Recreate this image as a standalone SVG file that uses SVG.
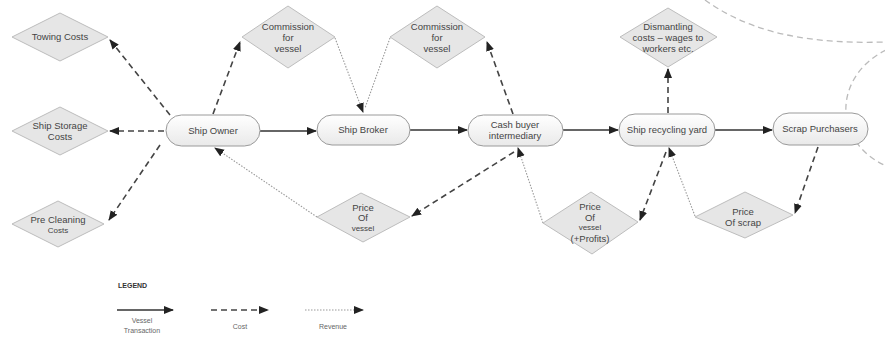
<svg xmlns="http://www.w3.org/2000/svg" width="885" height="339" viewBox="0 0 885 339">
<defs>
<linearGradient id="pill" x1="0" y1="0" x2="0" y2="1">
<stop offset="0" stop-color="#ffffff"/><stop offset="1" stop-color="#e9e9e9"/>
</linearGradient>
<marker id="ah" markerUnits="userSpaceOnUse" markerWidth="10" markerHeight="10" viewBox="0 0 10 10" refX="9" refY="5" orient="auto">
<path d="M0,1 L10,5 L0,9 Z" fill="#222"/>
</marker>
</defs>
<style>
text{font-family:"Liberation Sans",Arial,sans-serif;font-size:9.5px;fill:#444;text-anchor:middle;dominant-baseline:middle}
.node rect{fill:url(#pill);stroke:#9a9a9a;stroke-width:1}
.dia polygon{fill:#e6e6e6;stroke:#bdbdbd;stroke-width:1}
.vt{stroke:#333;stroke-width:1.3;fill:none}
.cost{stroke:#444;stroke-width:1.6;fill:none;stroke-dasharray:6 4}
.rev{stroke:#999;stroke-width:1.1;fill:none;stroke-dasharray:1.5 1.5}
.deco{stroke:#bbb;stroke-width:1.3;fill:none;stroke-dasharray:6 4}
.leg{font-size:7px;fill:#666}
</style>
<g id="decoration">
<path class="deco" d="M705 0 C740 25 790 45 885 42"/>
<path class="deco" d="M886 50 C835 75 830 140 886 166"/>
</g>
<g id="connectors">
<path class="vt" d="M260 131 L316 131" marker-end="url(#ah)"/>
<path class="vt" d="M410 130 L467 130" marker-end="url(#ah)"/>
<path class="vt" d="M563 130 L618 130" marker-end="url(#ah)"/>
<path class="vt" d="M715 130 L772 130" marker-end="url(#ah)"/>
<path class="cost" d="M170 115 L110 40" marker-end="url(#ah)"/>
<path class="cost" d="M213 114 L240 42" marker-end="url(#ah)"/>
<path class="cost" d="M164 131 L110 131" marker-end="url(#ah)"/>
<path class="cost" d="M160 145 L109 220" marker-end="url(#ah)"/>
<path class="cost" d="M513 114 L487 42" marker-end="url(#ah)"/>
<path class="cost" d="M514 152 L412 216" marker-end="url(#ah)"/>
<path class="cost" d="M666 152 L640 220" marker-end="url(#ah)"/>
<path class="cost" d="M818 147 L795 213" marker-end="url(#ah)"/>
<path class="cost" d="M668 113 L668 69" marker-end="url(#ah)"/>
<path class="rev" d="M335 38 L363 112" marker-end="url(#ah)"/>
<path class="rev" d="M390 38 L365 108"/>
<path class="rev" d="M317 217 L215 148" marker-end="url(#ah)"/>
<path class="rev" d="M543 223 L518 148" marker-end="url(#ah)"/>
<path class="rev" d="M695 216 L669 148" marker-end="url(#ah)"/>
</g>
<g id="ship-owner" class="node"><rect x="166" y="115" width="94" height="31" rx="15.5"/><text x="213" y="131">Ship Owner</text></g>
<g id="ship-broker" class="node"><rect x="317" y="115" width="93" height="30" rx="15"/><text x="363" y="130">Ship Broker</text></g>
<g id="cash-buyer" class="node"><rect x="468" y="115" width="95" height="31" rx="15.5"/><text x="515" y="125">Cash buyer</text><text x="515" y="136">intermediary</text></g>
<g id="ship-recycling-yard" class="node"><rect x="619" y="114" width="96" height="32" rx="16"/><text x="667" y="130">Ship recycling yard</text></g>
<g id="scrap-purchasers" class="node"><rect x="773" y="113" width="95" height="32" rx="16"/><text x="820" y="129">Scrap Purchasers</text></g>
<g id="towing-costs" class="dia"><polygon points="12,37 60,13 108,37 60,61"/><text x="60" y="37">Towing Costs</text></g>
<g id="ship-storage-costs" class="dia"><polygon points="12,131 60,107 108,131 60,155"/><text x="60" y="126">Ship Storage</text><text x="60" y="137">Costs</text></g>
<g id="pre-cleaning-costs" class="dia"><polygon points="12,224 58,201 104,224 58,247"/><text x="58" y="220">Pre Cleaning</text><text x="58" y="231" style="font-size:8px">Costs</text></g>
<g id="commission-1" class="dia"><polygon points="242,37 288,6 335,37 288,68"/><text x="288" y="27">Commission</text><text x="288" y="38">for</text><text x="288" y="49">vessel</text></g>
<g id="commission-2" class="dia"><polygon points="390,37 437,6 485,37 437,68"/><text x="437" y="27">Commission</text><text x="437" y="38">for</text><text x="437" y="49">vessel</text></g>
<g id="dismantling-costs" class="dia"><polygon points="620,37 668,8 717,37 668,67"/><text x="668" y="27">Dismantling</text><text x="668" y="38">costs – wages to</text><text x="668" y="49">workers etc.</text></g>
<g id="price-of-vessel" class="dia"><polygon points="317,217 361,193 410,217 363,242"/><text x="363" y="208">Price</text><text x="363" y="218">Of</text><text x="363" y="229" style="font-size:8px">vessel</text></g>
<g id="price-of-vessel-profits" class="dia"><polygon points="543,223 591,192 638,222 592,254"/><text x="590" y="207">Price</text><text x="590" y="218">Of</text><text x="590" y="228" style="font-size:8px">vessel</text><text x="590" y="239">(+Profits)</text></g>
<g id="price-of-scrap" class="dia"><polygon points="695,217 745,192 793,215 745,238"/><text x="743" y="212">Price</text><text x="743" y="223">Of scrap</text></g>
<g id="legend">
<text x="118" y="286" style="font-size:7px;font-weight:bold;fill:#333;text-anchor:start">LEGEND</text>
<path class="vt" d="M117 310 L173 310" marker-end="url(#ah)"/>
<path class="cost" d="M211 310 L268 310" marker-end="url(#ah)"/>
<path class="rev" d="M305 310 L363 310" marker-end="url(#ah)"/>
<text class="leg" x="142" y="321">Vessel</text>
<text class="leg" x="142" y="331">Transaction</text>
<text class="leg" x="240" y="327">Cost</text>
<text class="leg" x="333" y="327">Revenue</text>
</g>
</svg>
